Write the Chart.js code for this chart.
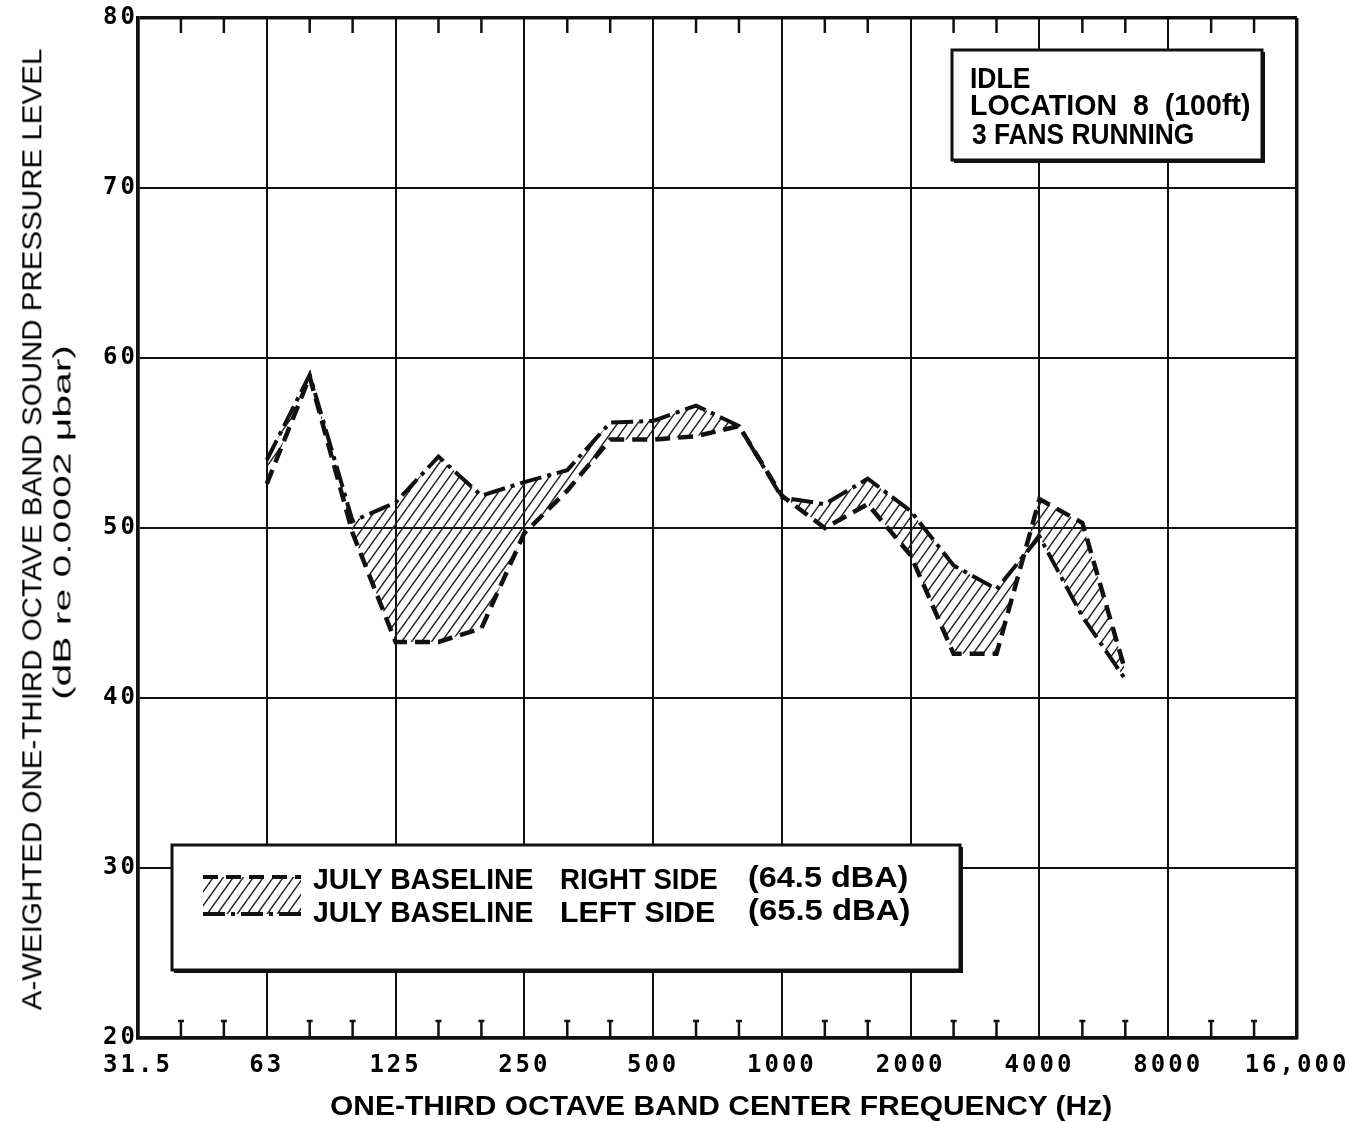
<!DOCTYPE html>
<html>
<head>
<meta charset="utf-8">
<script src="https://cdn.jsdelivr.net/npm/chart.js@4/dist/chart.umd.min.js"></script>
<style>
  html, body { margin: 0; padding: 0; background: #fff; }
  #wrap { position: relative; width: 1349px; height: 1122px; overflow: hidden; }
  .lbl {
    position: absolute; white-space: nowrap; color: #000; line-height: 1;
    font-family: "Liberation Sans", Arial, sans-serif; transform-origin: 0 0;
  }
  .b { font-weight: bold; }
</style>
</head>
<body>
<div id="wrap">
  <canvas id="chart"></canvas>

  <div class="lbl b" id="info1">IDLE</div>
  <div class="lbl b" id="info2">LOCATION&nbsp; 8 &nbsp;(100ft)</div>
  <div class="lbl b" id="info3">3 FANS RUNNING</div>

  <div class="lbl b" id="lg1a">JULY BASELINE</div>
  <div class="lbl b" id="lg1b">RIGHT SIDE</div>
  <div class="lbl b" id="lg1c">(64.5 dBA)</div>
  <div class="lbl b" id="lg2a">JULY BASELINE</div>
  <div class="lbl b" id="lg2b">LEFT SIDE</div>
  <div class="lbl b" id="lg2c">(65.5 dBA)</div>

  <div class="lbl b" id="xtitle">ONE-THIRD OCTAVE BAND CENTER FREQUENCY (Hz)</div>
  <div class="lbl" id="ytitle1">A-WEIGHTED ONE-THIRD OCTAVE BAND SOUND PRESSURE LEVEL</div>
  <div class="lbl" id="ytitle2">(dB re 0.0002 μbar)</div>
</div>

<script>
// one-third octave band centres, 31.5 Hz .. 16 kHz (x position = index in this list)
const allBands = ["31.5", "40", "50", "63", "80", "100", "125", "160", "200", "250", "315", "400",
  "500", "630", "800", "1000", "1250", "1600", "2000", "2500", "3150", "4000", "5000", "6300",
  "8000", "10000", "12500", "16000"]
const octaveLabels = ["31.5", "63", "125", "250", "500", "1000", "2000", "4000", "8000", "16,000"]

const measuredBands = ["63", "80", "100", "125", "160", "200", "250", "315", "400", "500", "630",
  "800", "1000", "1250", "1600", "2000", "2500", "3150", "4000", "5000", "6300"]
const rightSide = [52.6, 58.9, 49.7, 43.3, 43.3, 44.1, 49.7, 52.2, 55.2, 55.2, 55.4,
  56.0, 51.9, 50.0, 51.4, 48.4, 42.6, 42.6, 51.7, 50.3, 41.6]
const leftSide = [54.0, 59.0, 50.4, 51.5, 54.2, 51.9, 52.7, 53.4, 56.2, 56.3, 57.2,
  56.0, 51.8, 51.4, 52.9, 51.0, 47.8, 46.4, 49.5, 44.8, 41.1]

const yMin = 20, yMax = 80, yStep = 10

const INK = "#111"
const rightDash = [15, 8]
const leftDash = [22, 6, 4, 6]

function hatchPattern() {
  const w = 10, h = 14
  const c = document.createElement("canvas")
  c.width = w; c.height = h
  const g = c.getContext("2d")
  g.strokeStyle = "#222"
  g.lineWidth = 1.4
  for (const k of [-1, 0, 1]) {
    g.beginPath()
    g.moveTo(k * w - 2, h + 2.8)
    g.lineTo(k * w + w + 2, -2.8)
    g.stroke()
  }
  return g.createPattern(c, "repeat")
}
const hatch = hatchPattern()

const toPoints = (vals) => vals.map((v, i) => ({ x: allBands.indexOf(measuredBands[i]), y: v }))

// third-octave tick marks, boxes, and the letter spacing of the typewriter tick labels
const frameExtras = {
  id: "frameExtras",
  beforeDraw(chart) { chart.ctx.letterSpacing = "3px" },
  beforeDatasetsDraw(chart) { chart.ctx.letterSpacing = "0px" },
  afterDraw(chart) {
    const { ctx, chartArea: a, scales: { x } } = chart
    ctx.save()
    ctx.strokeStyle = INK
    ctx.lineWidth = 2.5
    allBands.forEach((b, i) => {
      if (i % 3 === 0) return
      const px = x.getPixelForValue(i)
      ctx.beginPath()
      ctx.moveTo(px, a.bottom); ctx.lineTo(px, a.bottom - 17)
      ctx.moveTo(px - 3, a.bottom - 17); ctx.lineTo(px + 3, a.bottom - 17)
      ctx.moveTo(px, a.top); ctx.lineTo(px, a.top + 15)
      ctx.stroke()
    })

    // info box, top right
    drawBox(ctx, 952, 50, 310, 110)
    // legend box, bottom left
    drawBox(ctx, 172, 845, 788, 125)

    // legend swatch
    const sx = 203, sy = 877, sw = 98, sh = 37
    ctx.fillStyle = hatch
    ctx.fillRect(sx, sy, sw, sh)
    ctx.lineWidth = 4
    ctx.setLineDash(rightDash)
    ctx.beginPath(); ctx.moveTo(sx, sy); ctx.lineTo(sx + sw, sy); ctx.stroke()
    ctx.setLineDash(leftDash)
    ctx.beginPath(); ctx.moveTo(sx, sy + sh); ctx.lineTo(sx + sw, sy + sh); ctx.stroke()
    ctx.restore()
  },
}

function drawBox(ctx, x, y, w, h) {
  ctx.save()
  ctx.setLineDash([])
  ctx.fillStyle = "#fff"
  ctx.fillRect(x, y, w, h)
  ctx.strokeStyle = INK
  ctx.lineWidth = 3
  ctx.strokeRect(x, y, w, h)
  ctx.lineWidth = 2
  ctx.beginPath()
  ctx.moveTo(x + w + 2, y + 2); ctx.lineTo(x + w + 2, y + h + 2); ctx.lineTo(x + 2, y + h + 2)
  ctx.stroke()
  ctx.restore()
}

const edgeWidth = (ctx, lo, hi) => (ctx.tick && (ctx.tick.value === lo || ctx.tick.value === hi) ? 3.5 : 2)

const tickFont = { family: "'DejaVu Sans Mono', monospace", size: 24, weight: "bold" }

new Chart(document.getElementById("chart"), {
  type: "line",
  data: {
    datasets: [
      {
        label: "JULY BASELINE RIGHT SIDE (64.5 dBA)",
        data: toPoints(rightSide),
        borderColor: INK,
        borderWidth: 4.5,
        borderDash: rightDash,
        pointRadius: 0,
        tension: 0,
        fill: false,
      },
      {
        label: "JULY BASELINE LEFT SIDE (65.5 dBA)",
        data: toPoints(leftSide),
        borderColor: INK,
        borderWidth: 4,
        borderDash: leftDash,
        pointRadius: 0,
        tension: 0,
        fill: "-1",
        backgroundColor: hatch,
      },
    ],
  },
  options: {
    responsive: true,
    maintainAspectRatio: false,
    animation: false,
    events: [],
    layout: { padding: { top: 18, right: 52, left: 0, bottom: 0 } },
    plugins: { legend: { display: false }, tooltip: { enabled: false } },
    scales: {
      x: {
        type: "linear",
        min: 0,
        max: allBands.length - 1,
        afterFit: (s) => { s.height = 84; s.paddingLeft = 0; s.paddingRight = 0 },
        ticks: {
          stepSize: 3,
          autoSkip: false,
          maxRotation: 0,
          padding: 13,
          color: "#000",
          font: tickFont,
          callback: (v) => (v % 3 === 0 ? octaveLabels[v / 3] : ""),
        },
        grid: {
          color: INK,
          lineWidth: (c) => edgeWidth(c, 0, allBands.length - 1),
          drawTicks: false,
        },
        border: { color: INK, width: 3.5 },
      },
      y: {
        min: yMin,
        max: yMax,
        afterFit: (s) => { s.width = 138; s.paddingTop = 0; s.paddingBottom = 0 },
        ticks: { stepSize: yStep, padding: 0, color: "#000", font: tickFont },
        grid: {
          color: INK,
          lineWidth: (c) => edgeWidth(c, yMin, yMax),
          drawTicks: false,
        },
        border: { color: INK, width: 3.5 },
      },
    },
  },
  plugins: [frameExtras],
})

// place html labels; sizes fitted so the text spans the reference width
function place(id, x, capTop, size, width) {
  const el = document.getElementById(id)
  el.style.fontSize = size + "px"
  el.style.left = x + "px"
  el.style.top = (capTop - 0.13 * size) + "px"
  el.style.transform = `scaleX(${width / el.offsetWidth})`
}
function placeVertical(id, cx, cy, size, length) {
  const el = document.getElementById(id)
  el.style.fontSize = size + "px"
  el.style.transformOrigin = "50% 50%"
  const w = el.offsetWidth, h = el.offsetHeight
  el.style.left = (cx - w / 2) + "px"
  el.style.top = (cy - h / 2) + "px"
  el.style.transform = `rotate(-90deg) scaleX(${length / w})`
}

place("info1", 970, 67, 30, 60)
place("info2", 970, 94, 30, 280)
place("info3", 972, 123, 30, 222)

place("lg1a", 313, 868, 30, 220)
place("lg1b", 560, 868, 30, 158)
place("lg1c", 748, 866, 30, 160)
place("lg2a", 313, 901, 30, 220)
place("lg2b", 560, 901, 30, 155)
place("lg2c", 748, 899, 30, 162)

place("xtitle", 330, 1096, 28, 782)
placeVertical("ytitle1", 33, 529, 27, 962)
placeVertical("ytitle2", 63, 522, 23, 355)
</script>
</body>
</html>
